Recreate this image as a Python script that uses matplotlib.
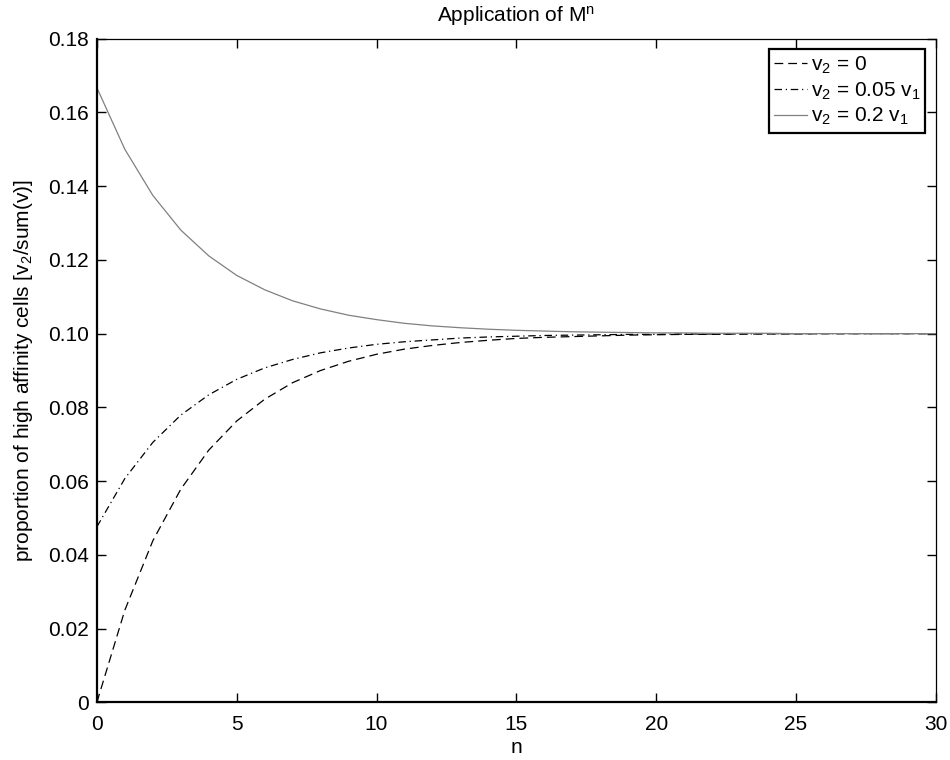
import matplotlib
matplotlib.use("Agg")
import matplotlib.pyplot as plt

plt.rcParams["font.family"] = ["Liberation Sans", "DejaVu Sans"]
plt.rcParams["mathtext.default"] = "regular"

FONT_SIZE = 15

# n = 0..30
n_steps = list(range(31))
v2_zero = [0.0, 0.0250, 0.0438, 0.0578, 0.0684, 0.0763, 0.0822, 0.0867, 0.0900,
           0.0925, 0.0944, 0.0958, 0.0968, 0.0976, 0.0982, 0.0987, 0.0990, 0.0992,
           0.0994, 0.0996, 0.0997, 0.0998, 0.0998, 0.0999, 0.0999, 0.0999, 0.1000,
           0.1000, 0.1000, 0.1000, 0.1000]
v2_005 = [0.0476, 0.0607, 0.0705, 0.0779, 0.0834, 0.0876, 0.0907, 0.0930, 0.0948,
          0.0961, 0.0971, 0.0978, 0.0983, 0.0988, 0.0991, 0.0993, 0.0995, 0.0996,
          0.0997, 0.0998, 0.0998, 0.0999, 0.0999, 0.0999, 0.1000, 0.1000, 0.1000,
          0.1000, 0.1000, 0.1000, 0.1000]
v2_02 = [0.1667, 0.1500, 0.1375, 0.1281, 0.1211, 0.1158, 0.1119, 0.1089, 0.1067,
         0.1050, 0.1038, 0.1028, 0.1021, 0.1016, 0.1012, 0.1009, 0.1007, 0.1005,
         0.1004, 0.1003, 0.1002, 0.1002, 0.1001, 0.1001, 0.1001, 0.1000, 0.1000,
         0.1000, 0.1000, 0.1000, 0.1000]

x_ticks = [0, 5, 10, 15, 20, 25, 30]
y_ticks = [0, 0.02, 0.04, 0.06, 0.08, 0.10, 0.12, 0.14, 0.16, 0.18]
y_tick_labels = ["0", "0.02", "0.04", "0.06", "0.08", "0.10", "0.12", "0.14", "0.16", "0.18"]

fig = plt.figure(figsize=(9.5, 7.6), dpi=100)
ax = fig.add_axes([0.102, 0.076, 0.883, 0.873])

ax.plot(n_steps, v2_zero, color="black", lw=0.9, dashes=(7, 4),
        label="v$_2$ = 0")
ax.plot(n_steps, v2_005, color="black", lw=0.9, dashes=(6, 3, 1, 3),
        label="v$_2$ = 0.05 v$_1$")
ax.plot(n_steps, v2_02, color="#808080", lw=0.9,
        label="v$_2$ = 0.2 v$_1$")

ax.set_xlim(0, 30)
ax.set_ylim(0, 0.18)
ax.set_xticks(x_ticks)
ax.set_yticks(y_ticks)
ax.set_yticklabels(y_tick_labels)
ax.tick_params(direction="in", length=6.5, width=1, top=True, right=True,
               labelsize=FONT_SIZE)
ax.tick_params(axis="x", pad=9)
ax.tick_params(axis="y", pad=6)

for side in ["left", "bottom"]:
    ax.spines[side].set_linewidth(1.6)
for side in ["top", "right"]:
    ax.spines[side].set_linewidth(0.9)

ax.set_title("Application of M$^n$", fontsize=FONT_SIZE, pad=12)
ax.set_xlabel("n", fontsize=FONT_SIZE, labelpad=3)
ax.set_ylabel("proportion of high affinity cells [v$_2$/sum(v)]", fontsize=FONT_SIZE, labelpad=9)

leg = ax.legend(loc="upper right", fontsize=FONT_SIZE, handlelength=1.6, handletextpad=0.15,
                borderaxespad=0.5, borderpad=0.25, labelspacing=0.22,
                fancybox=False, framealpha=1)
leg.get_frame().set_edgecolor("black")
leg.get_frame().set_linewidth(1.6)

fig.savefig("out.png", dpi=100)
